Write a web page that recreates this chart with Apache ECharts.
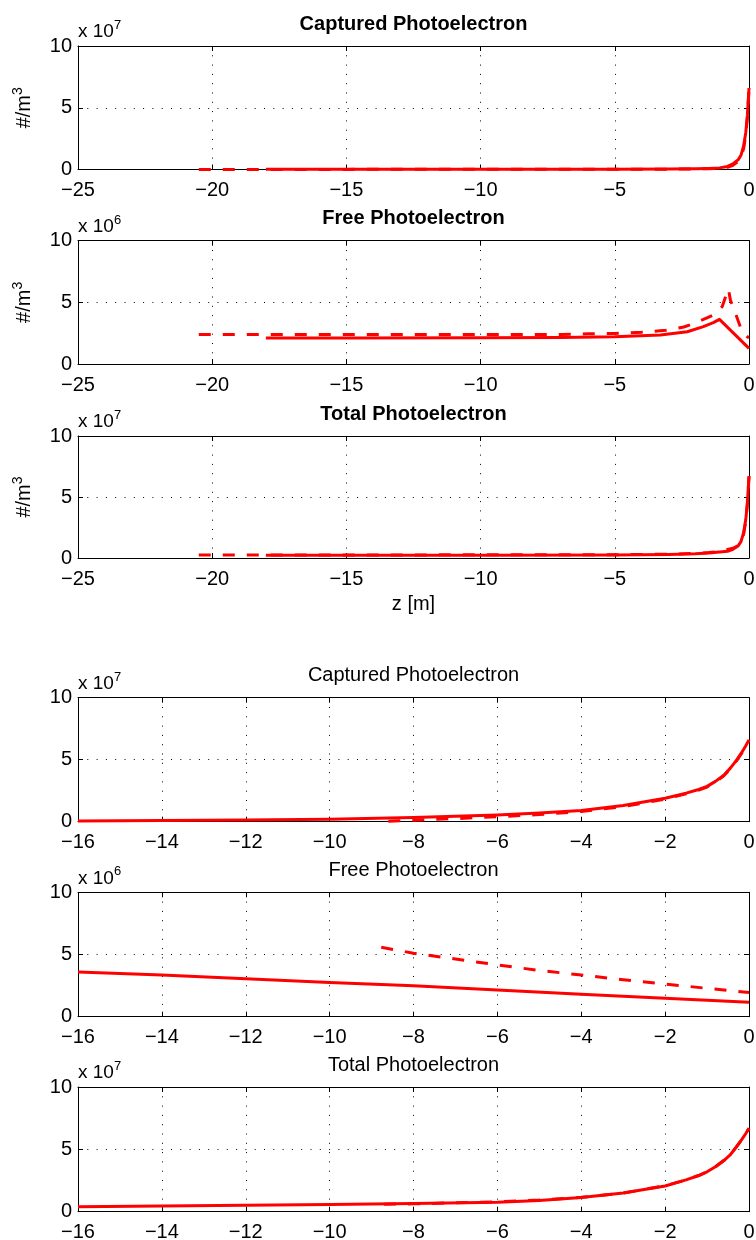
<!DOCTYPE html>
<html>
<head>
<meta charset="utf-8">
<script src="https://cdn.jsdelivr.net/npm/echarts@6/dist/echarts.min.js"></script>
<style>
  html, body { margin: 0; padding: 0; background: #fff; }
  #chart { width: 756px; height: 1240px; }
</style>
</head>
<body>
<div id="chart"></div>
<script>
// ---- z ranges / tick spacing (m) ----
const zRangeLong = [-25, 0, 5];
const zRangeShort = [-16, 0, 2];
const densTicks = [0, 10, 5];

// ---- long run: captured photoelectron density (x 1e7 #/m^3) ----
const capLongSolidZ = [-18, -15, -10, -5, -3, -2, -1.5, -1.1, -0.8, -0.6, -0.4, -0.3, -0.2, -0.12, -0.06, -0.03, 0];
const capLongSolid  = [0.02, 0.02, 0.02, 0.03, 0.04, 0.06, 0.09, 0.13, 0.25, 0.45, 0.8, 1.15, 1.9, 3.0, 4.4, 5.5, 6.6];
const capLongDashZ  = [-20.5, -15, -10, -5, -3, -2, -1.5, -1.1, -0.8, -0.6, -0.4, -0.3, -0.2, -0.12, -0.06, -0.03, 0];
const capLongDash   = [0.01, 0.01, 0.02, 0.02, 0.03, 0.05, 0.07, 0.1, 0.18, 0.34, 0.65, 1.0, 1.7, 2.8, 4.2, 5.3, 6.5];

// ---- long run: free photoelectron density (x 1e6 #/m^3) ----
const freeLongSolidZ = [-18, -15, -10, -7, -5, -3.3, -2.3, -1.7, -1.33, -1.1, 0];
const freeLongSolid  = [2.1, 2.1, 2.12, 2.15, 2.21, 2.35, 2.62, 3.03, 3.35, 3.62, 1.27];
const freeLongDashZ  = [-20.5, -15, -10, -7, -6, -5, -4, -3.1, -2.43, -2.0, -1.3, -1.0, -0.77, -0.69, -0.5, -0.32, -0.2, -0.05, 0];
const freeLongDash   = [2.4, 2.4, 2.4, 2.4, 2.45, 2.48, 2.58, 2.73, 3.0, 3.33, 4.0, 4.65, 6.1, 5.16, 4.08, 3.0, 2.46, 2.19, 2.15];

// ---- long run: total photoelectron density (x 1e7 #/m^3) ----
const totLongSolidZ = [-18, -15, -10, -5, -3, -2, -1.5, -1.1, -0.8, -0.6, -0.4, -0.3, -0.2, -0.12, -0.06, -0.03, 0];
const totLongSolid  = [0.23, 0.23, 0.23, 0.25, 0.29, 0.34, 0.41, 0.49, 0.55, 0.71, 1.01, 1.34, 2.07, 3.15, 4.54, 5.63, 6.7];
const totLongDashZ  = [-20.5, -15, -10, -5, -3, -2, -1.5, -1.1, -0.8, -0.6, -0.4, -0.3, -0.2, -0.12, -0.06, -0.03, 0];
const totLongDash   = [0.25, 0.25, 0.26, 0.27, 0.31, 0.38, 0.45, 0.53, 0.7, 0.8, 1.01, 1.29, 1.95, 3.03, 4.42, 5.52, 6.7];

// ---- short run: captured (x 1e7) ----
const capShortSolidZ = [-16, -14, -12, -10, -8, -6, -5, -4, -3, -2, -1.5, -1.2, -1, -0.8, -0.6, -0.45, -0.3, -0.17, -0.08, 0];
const capShortSolid  = [0.06, 0.09, 0.13, 0.19, 0.33, 0.54, 0.7, 0.9, 1.3, 1.89, 2.3, 2.6, 2.85, 3.25, 3.75, 4.3, 4.95, 5.6, 6.1, 6.6];
const capShortDashZ  = [-8.6, -8, -7, -6, -5, -4, -3, -2, -1.5, -1.2, -1, -0.8, -0.6, -0.45, -0.3, -0.17, -0.08, 0];
const capShortDash   = [0.03, 0.12, 0.25, 0.4, 0.58, 0.82, 1.22, 1.82, 2.25, 2.55, 2.8, 3.2, 3.7, 4.25, 4.9, 5.55, 6.05, 6.55];

// ---- short run: free (x 1e6) ----
const freeShortSolidZ = [-16, -14, -12, -10, -8, -6, -4, -2, 0];
const freeShortSolid  = [3.6, 3.35, 3.05, 2.75, 2.49, 2.15, 1.8, 1.48, 1.16];
const freeShortDashZ  = [-8.77, -8, -7, -6, -5, -4, -3, -2, -1, 0];
const freeShortDash   = [5.58, 5.1, 4.64, 4.16, 3.72, 3.35, 2.97, 2.63, 2.28, 1.95];

// ---- short run: total (x 1e7) ----
const totShortSolidZ = [-16, -14, -12, -10, -8, -6, -5, -4, -3, -2, -1.5, -1.2, -1, -0.8, -0.6, -0.45, -0.3, -0.17, -0.08, 0];
const totShortSolid  = [0.40, 0.45, 0.51, 0.57, 0.65, 0.75, 0.9, 1.14, 1.5, 2.06, 2.55, 2.9, 3.2, 3.6, 4.1, 4.55, 5.2, 5.8, 6.25, 6.69];
const totShortDashZ  = [-8.7, -8, -6, -5, -4, -3, -2, -1.5, -1.2, -1, -0.8, -0.6, -0.45, -0.3, -0.17, -0.08, 0];
const totShortDash   = [0.6, 0.63, 0.79, 0.93, 1.15, 1.5, 2.08, 2.55, 2.9, 3.2, 3.6, 4.1, 4.55, 5.2, 5.8, 6.25, 6.68];

const FONT = '"Liberation Sans", Arial, Helvetica, sans-serif';
const RED = '#ff0000';

const zip = (xs, ys) => xs.map((x, i) => [x, ys[i]]);

const panels = [
  { title: 'Captured Photoelectron', bold: true,  exp: '7', top: 46,    height: 123.5, z: zRangeLong,  ylabel: true,  xlabel: false,
    solid: zip(capLongSolidZ, capLongSolid),   dash: zip(capLongDashZ, capLongDash) },
  { title: 'Free Photoelectron',     bold: true,  exp: '6', top: 240.7, height: 123.3, z: zRangeLong,  ylabel: true,  xlabel: false,
    solid: zip(freeLongSolidZ, freeLongSolid), dash: zip(freeLongDashZ, freeLongDash) },
  { title: 'Total Photoelectron',    bold: true,  exp: '7', top: 436,   height: 122,   z: zRangeLong,  ylabel: true,  xlabel: true,
    solid: zip(totLongSolidZ, totLongSolid),   dash: zip(totLongDashZ, totLongDash) },
  { title: 'Captured Photoelectron', bold: false, exp: '7', top: 697.7, height: 124,   z: zRangeShort, ylabel: false, xlabel: false,
    solid: zip(capShortSolidZ, capShortSolid), dash: zip(capShortDashZ, capShortDash) },
  { title: 'Free Photoelectron',     bold: false, exp: '6', top: 892.3, height: 124.4, z: zRangeShort, ylabel: false, xlabel: false,
    solid: zip(freeShortSolidZ, freeShortSolid), dash: zip(freeShortDashZ, freeShortDash) },
  { title: 'Total Photoelectron',    bold: false, exp: '7', top: 1087,  height: 124.7, z: zRangeShort, ylabel: false, xlabel: false,
    solid: zip(totShortSolidZ, totShortSolid), dash: zip(totShortDashZ, totShortDash) }
];

const PLOT_LEFT = 78, PLOT_WIDTH = 671;
const minus = v => String(v).replace('-', '\u2212');

const axisLine = { show: true, onZero: false, lineStyle: { color: '#000', width: 1 } };
const tickIn = { show: true, inside: true, length: 5, lineStyle: { color: '#000', width: 1 } };
const gridDots = { show: true, lineStyle: { color: '#000', width: 1, type: [1, 8.3] } };

const grid = [], xAxis = [], yAxis = [], series = [], title = [];

panels.forEach((p, i) => {
  grid.push({ left: PLOT_LEFT, width: PLOT_WIDTH, top: p.top, height: p.height, outerBoundsMode: 'none' });

  const xCommon = { type: 'value', gridIndex: i, min: p.z[0], max: p.z[1], interval: p.z[2] };
  xAxis.push(Object.assign({}, xCommon, {
    position: 'bottom',
    axisLine, axisTick: tickIn, splitLine: gridDots,
    axisLabel: { show: true, margin: 11, fontSize: 20, color: '#000', fontFamily: FONT, formatter: minus },
    name: p.xlabel ? 'z [m]' : '', nameLocation: 'middle', nameGap: 36,
    nameTextStyle: { fontSize: 20, color: '#000', fontFamily: FONT }
  }));
  xAxis.push(Object.assign({}, xCommon, {
    position: 'top', axisLine, axisTick: tickIn, splitLine: { show: false }, axisLabel: { show: false }
  }));

  const yCommon = { type: 'value', gridIndex: i, min: densTicks[0], max: densTicks[1], interval: densTicks[2] };
  yAxis.push(Object.assign({}, yCommon, {
    position: 'left',
    axisLine, axisTick: tickIn, splitLine: gridDots,
    axisLabel: { show: true, margin: 6, fontSize: 20, color: '#000', fontFamily: FONT },
    name: p.ylabel ? '#/m{s|3}' : '', nameLocation: 'middle', nameGap: 35, nameRotate: 90,
    nameTextStyle: {
      color: '#000', fontFamily: FONT,
      rich: {
        s: { fontSize: 14, fontFamily: FONT, color: '#000', verticalAlign: 'top', lineHeight: 28 }
      },
      fontSize: 20, lineHeight: 28, verticalAlign: 'bottom'
    }
  }));
  yAxis.push(Object.assign({}, yCommon, {
    position: 'right', axisLine, axisTick: tickIn, splitLine: { show: false }, axisLabel: { show: false }
  }));

  const lineBase = { type: 'line', xAxisIndex: 2 * i, yAxisIndex: 2 * i, showSymbol: false, symbol: 'none',
                     clip: false, animation: false, silent: true };
  series.push(Object.assign({}, lineBase, { data: p.solid, lineStyle: { color: RED, width: 3, type: 'solid', join: 'round' } }));
  series.push(Object.assign({}, lineBase, { data: p.dash,  lineStyle: { color: RED, width: 3, type: [12, 12], join: 'round' } }));

  title.push({
    text: p.title, left: PLOT_LEFT + PLOT_WIDTH / 2, textAlign: 'center', top: p.top - 32, padding: 0,
    textStyle: { fontSize: 20, fontWeight: p.bold ? 'bold' : 'normal', color: '#000', fontFamily: FONT }
  });
  title.push({
    text: 'x 10{s|' + p.exp + '}', left: PLOT_LEFT, top: p.top - 27, padding: 0,
    textStyle: {
      fontSize: 19, fontWeight: 'normal', color: '#000', fontFamily: FONT, lineHeight: 26,
      rich: {
        s: { fontSize: 13, fontFamily: FONT, color: '#000', verticalAlign: 'top', lineHeight: 26 }
      }
    }
  });
});

const chart = echarts.init(document.getElementById('chart'), null, { renderer: 'canvas' });
chart.setOption({
  backgroundColor: '#fff',
  animation: false,
  title, grid, xAxis, yAxis, series
});
</script>
</body>
</html>
